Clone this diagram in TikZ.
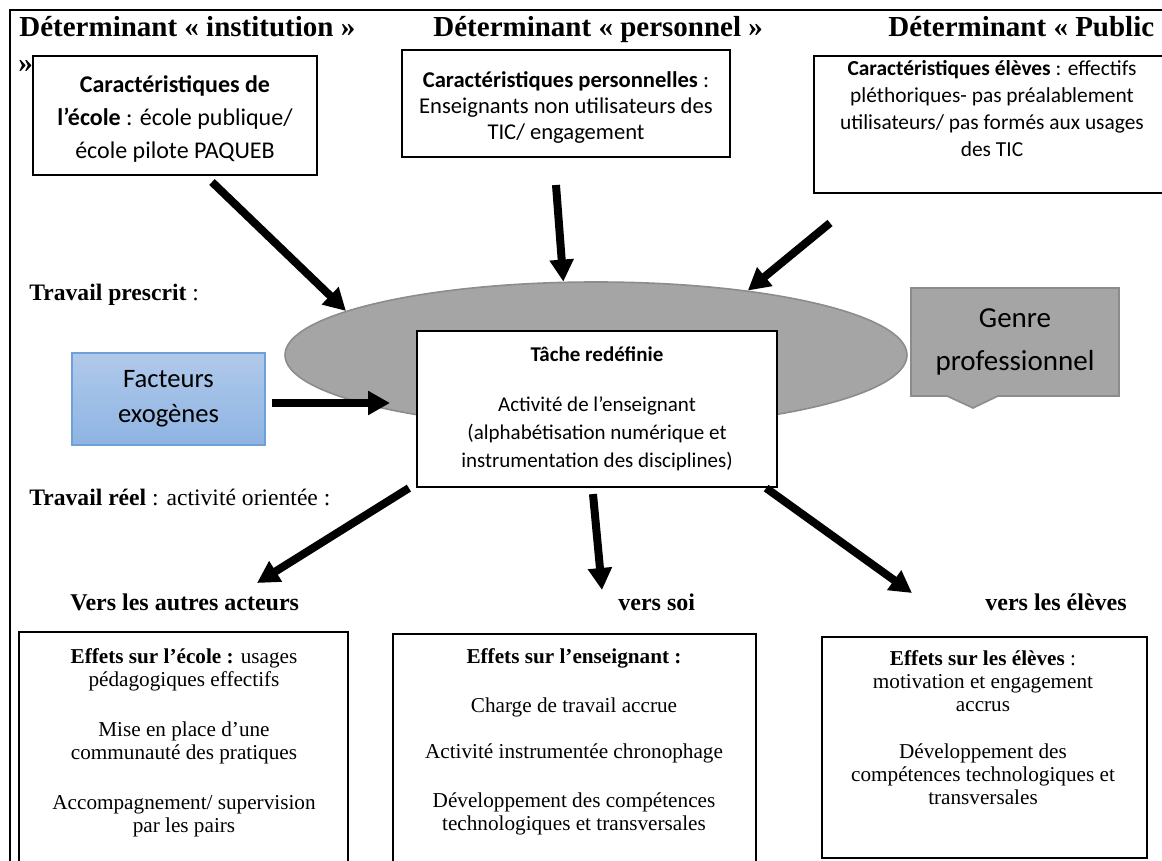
\documentclass[tikz,border=0pt]{standalone}
\usepackage{fontspec}
\setmainfont{Liberation Serif}
\newfontfamily\calib{Carlito}
\usetikzlibrary{arrows.meta,shapes.geometric}

\definecolor{gris}{HTML}{A5A5A5}
\definecolor{grisbord}{HTML}{8C8C8C}
\definecolor{bleuhaut}{HTML}{B0C9EA}
\definecolor{bleubas}{HTML}{8EB4E3}
\definecolor{bleubord}{HTML}{6FA0D8}

\begin{document}
\begin{tikzpicture}[x=0.5pt, y=-0.5pt,
    titre/.style={anchor=base west, inner sep=0pt, font=\fontsize{14.5}{16}\selectfont\bfseries},
    libelle/.style={anchor=base west, inner sep=0pt, font=\fontsize{11.8}{14}\selectfont},
    vers/.style={anchor=base west, inner sep=0pt, font=\fontsize{12}{14}\selectfont\bfseries},
    cadre/.style={draw, line width=1.1pt, fill=white, inner sep=0pt},
    effet/.style={align=center, inner sep=0pt, font=\fontsize{10.6}{11.5}\selectfont},
    fleche/.style={line width=4pt, -{Triangle[length=11pt, width=11.5pt]}}]

  \useasboundingbox (0,0) rectangle (1162,861);

  % cadre du tableau
  \draw[line width=1pt] (10,880) -- (10,10) -- (1180,10);

  % 1. les trois déterminants
  \node[titre] (tinst) at (19,37) {Déterminant « institution »};
  \node[titre] (tinstb) at (18,73) {»};
  \node[titre] (tpers) at (433,37) {Déterminant « personnel »};
  \node[titre] (tpub) at (888,37) {Déterminant « Public};

  \node[cadre, minimum width=142pt, minimum height=59.5pt] (ecole) at (175,115.5) {};
  \node[align=center, inner sep=0pt, font=\calib\fontsize{12}{16.5}\selectfont] (ecoletxt) at (175,118.5)
    {\textbf{Caractéristiques de}\\\textbf{l’école} : école publique/\\école pilote PAQUEB};

  \node[cadre, minimum width=164pt, minimum height=53.5pt] (perso) at (566,103.5) {};
  \node[align=center, inner sep=0pt, font=\calib\fontsize{11.3}{13}\selectfont] (persotxt) at (566,107)
    {\textbf{Caractéristiques personnelles} :\\Enseignants non utilisateurs des\\TIC/ engagement};

  \node[cadre, minimum width=178pt, minimum height=68.5pt] (public) at (992,124.5) {};
  \node[align=center, inner sep=0pt, font=\calib\fontsize{10.7}{13.5}\selectfont] (publictxt) at (992,109)
    {\textbf{Caractéristiques élèves} : effectifs\\pléthoriques- pas préalablement\\utilisateurs/ pas formés aux usages\\des TIC};

  % 2. la tâche redéfinie
  \node[libelle] (prescrit) at (29,300) {\textbf{Travail prescrit} :};
  \node[ellipse, fill=gris, draw=grisbord, line width=0.8pt, inner sep=0pt,
        minimum width=311pt, minimum height=73pt] (ell) at (596,355) {};

  \coordinate (a1) at (212,182);
  \coordinate (a2) at (556,185);
  \coordinate (a3) at (830,223);
  \draw[fleche] (a1) -- (ell.170);
  \draw[fleche] (a2) -- (ell.114);
  \draw[fleche] (a3) -- (ell.23);

  \node[cadre, minimum width=180pt, minimum height=78pt, align=center,
        font=\calib\fontsize{10.5}{14}\selectfont] (tache) at (597,409)
    {\textbf{Tâche redéfinie}\\[11pt]Activité de l’enseignant\\(alphabétisation numérique et\\instrumentation des disciplines)};

  \node[draw=bleubord, top color=bleuhaut, bottom color=bleubas, line width=0.6pt,
        minimum width=96.5pt, minimum height=46pt, align=center,
        font=\calib\fontsize{13.3}{17.5}\selectfont] (exo) at (168.5,399) {Facteurs\\exogènes};
  \coordinate (exofin) at (390,403);
  \draw[fleche] (exo.east) ++(6,4) -- (exofin);

  \filldraw[fill=gris, draw=grisbord, line width=0.8pt]
    (911,288) -- (1119,288) -- (1119,396) -- (998,396) -- (973,408) -- (947,396) -- (911,396) -- cycle;
  \node[align=center, font=\calib\fontsize{14.5}{21.5}\selectfont] (genre) at (1015,342) {Genre\\professionnel};

  % 3. l'activité orientée
  \node[libelle] (reel) at (29,505) {\textbf{Travail réel} : activité orientée :};

  \coordinate (b1) at (257,583);
  \coordinate (b2) at (602,590);
  \coordinate (b3) at (912,593);
  \draw[fleche] ([xshift=-3.5pt]tache.south west) -- (b1);
  \draw[fleche] ([shift={(-2pt,-3pt)}]tache.south) -- (b2);
  \draw[fleche] ([xshift=-6pt]tache.south east) -- (b3);

  \node[vers] (vautres) at (70,610) {Vers les autres acteurs};
  \node[vers] (vsoi) at (618,610) {vers soi};
  \node[vers] (veleves) at (985,610) {vers les élèves};

  \node[cadre, minimum width=164.5pt, minimum height=124pt] (effecole) at (183.5,756) {};
  \node[effet] (effecoletxt) at (184,742.5)
    {\textbf{Effets sur l’école :} usages\\pédagogiques effectifs\\[13.5pt]Mise en place d’une\\communauté des pratiques\\[13.5pt]Accompagnement/ supervision\\par les pairs};

  \node[cadre, minimum width=181.5pt, minimum height=123pt] (effens) at (574.5,757) {};
  \node[effet] (effenstxt) at (574,741.5)
    {\textbf{Effets sur l’enseignant :}\\[13pt]Charge de travail accrue\\[11.5pt]Activité instrumentée chronophage\\[13pt]Développement des compétences\\technologiques et transversales};

  \node[cadre, minimum width=162.5pt, minimum height=110.5pt] (effel) at (984.5,747.5) {};
  \node[effet] (effeltxt) at (983,728)
    {\textbf{Effets sur les élèves} :\\motivation et engagement\\accrus\\[12pt]Développement des\\compétences technologiques et\\transversales};
\end{tikzpicture}
\end{document}
